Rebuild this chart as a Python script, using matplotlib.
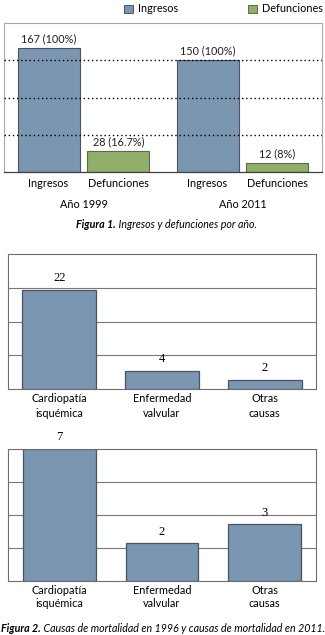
import matplotlib.pyplot as plt
from matplotlib.patches import Rectangle

# datos figura 1
anios = ['Año 1999', 'Año 2011']
ingresos = [167, 150]
defunciones = [28, 12]
etiq_ingresos = ['167 (100%)', '150 (100%)']
etiq_defunciones = ['28 (16.7%)', '12 (8%)']

# datos figura 2
causas = ['Cardiopatía\nisquémica', 'Enfermedad\nvalvular', 'Otras\ncausas']
muertes_1996 = [22, 4, 2]
muertes_2011 = [7, 2, 3]

azul = '#7b96b1'
verde = '#8fae68'
borde = '#4a5360'
sans = 'Lato'
serif = 'Liberation Serif'
fs = 7.8

W, H = 325, 635
fig = plt.figure(figsize=(W / 100, H / 100), dpi=100)


def caja(l, t, r, b):
    return [l / W, 1 - b / H, (r - l) / W, (b - t) / H]


# ---- Figura 1 ----
ax1 = fig.add_axes(caja(4, 23, 322, 172))
centros = [0.5, 1.5]
xi = [c - 0.22 for c in centros]
xd = [c + 0.22 for c in centros]
ax1.bar(xi, ingresos, width=0.39, color=azul, edgecolor=borde, linewidth=0.8, zorder=2)
ax1.bar(xd, defunciones, width=0.39, color=verde, edgecolor='#5a6b48', linewidth=0.8, zorder=2)
for x, v, t in zip(xi + xd, ingresos + defunciones, etiq_ingresos + etiq_defunciones):
    ax1.annotate(t, (x, v), xytext=(0, 2.5), textcoords='offset points', ha='center',
                 va='bottom', fontsize=fs, family=sans, color='#222222')
ax1.set_xlim(0, 2)
ax1.set_ylim(0, 200)
for y in [50, 100, 150]:
    ax1.axhline(y, color='black', linewidth=1.0, linestyle=(0, (1, 2)), zorder=3)
ax1.set_xticks(xi + xd)
ax1.set_xticklabels(['Ingresos'] * 2 + ['Defunciones'] * 2, fontsize=fs, family=sans)
ax1.set_yticks([])
ax1.tick_params(axis='x', length=0, pad=4)
for c, a in zip(centros, anios):
    ax1.text(c, -0.215, a, transform=ax1.get_xaxis_transform(), ha='center', va='center',
             fontsize=fs, family=sans)
for s in ['top', 'left', 'right']:
    ax1.spines[s].set_color('#a8a8a8')
    ax1.spines[s].set_linewidth(0.8)
ax1.spines['bottom'].set_color('#404040')
ax1.spines['bottom'].set_linewidth(0.9)

# leyenda
for x0, col, ec, txt in [(124, azul, borde, 'Ingresos'), (248, verde, '#5a6b48', 'Defunciones')]:
    fig.patches.append(Rectangle((x0 / W, 1 - 12.5 / H), 9 / W, 8 / H, transform=fig.transFigure,
                                 facecolor=col, edgecolor=ec, linewidth=0.7))
    fig.text((x0 + 14) / W, 1 - 8.5 / H, txt, fontsize=fs, family=sans, va='center')

# pie figura 1
t1 = fig.text(76 / W, 1 - 225 / H, 'Figura 1.', fontsize=7.7, family=sans, style='italic',
              weight='bold', va='center')
ax1.annotate(' Ingresos y defunciones por año.', xy=(1, 0.5), xycoords=t1, va='center',
             fontsize=7.7, family=sans, style='italic', annotation_clip=False)


def causas_chart(box, valores, ymax, ancho, interlinea):
    ax = fig.add_axes(caja(*box))
    x = range(len(valores))
    ax.bar(x, valores, width=ancho, color=azul, edgecolor=borde, linewidth=0.9, zorder=2)
    for xx, v in zip(x, valores):
        ax.annotate(str(v), (xx, v), xytext=(0, 4), textcoords='offset points', ha='center',
                    va='bottom', fontsize=9, family=serif)
    ax.set_xlim(-0.5, 2.5)
    ax.set_ylim(0, ymax)
    ax.set_yticks([ymax / 4, ymax / 2, ymax * 3 / 4])
    ax.set_yticklabels([])
    ax.grid(axis='y', color='#777777', linewidth=0.8, zorder=1)
    ax.set_axisbelow(True)
    ax.tick_params(axis='y', length=0)
    ax.set_xticks(list(x))
    ax.set_xticklabels(causas, fontsize=fs, family=sans, linespacing=interlinea)
    ax.tick_params(axis='x', length=0, pad=3)
    for s in ax.spines.values():
        s.set_color('#6e6e6e')
        s.set_linewidth(0.8)
    return ax


causas_chart((8, 254, 316, 389), muertes_1996, 30, 0.72, 1.45)
ax3 = causas_chart((8, 449, 316, 581), muertes_2011, 7, 0.71, 1.15)

t2 = fig.text(1 / W, 1 - 628 / H, 'Figura 2.', fontsize=7.7, family=sans, style='italic',
              weight='bold', va='center')
ax3.annotate(' Causas de mortalidad en 1996 y causas de mortalidad en 2011.', xy=(1, 0.5),
             xycoords=t2, va='center', fontsize=7.7, family=sans, style='italic',
             annotation_clip=False)

fig.savefig('out.png', dpi=100)
